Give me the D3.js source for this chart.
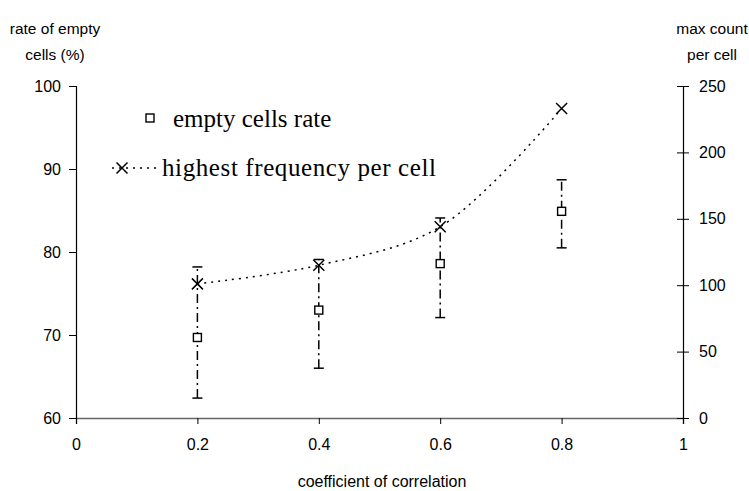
<!DOCTYPE html>
<html>
<head>
<meta charset="utf-8">
<script src="https://cdn.jsdelivr.net/npm/d3@7"></script>
<style>
  body { margin: 0; background: #fff; }
  svg { display: block; }
</style>
</head>
<body>
<script>
// data
var corr = [0.2, 0.4, 0.6, 0.8];
var emptyRate = [69.7, 73.0, 78.6, 84.9];
var emptyLow = [62.4, 66.0, 72.1, 80.5];
var emptyHigh = [78.2, 79.1, 84.1, 88.7];
var maxCount = [101, 115, 144, 233];

var xTicks = [0, 0.2, 0.4, 0.6, 0.8, 1];
var leftTicks = [60, 70, 80, 90, 100];
var rightTicks = [0, 50, 100, 150, 200, 250];

var W = 749, H = 491;
var pLeft = 76, pRight = 683, pTop = 86, pBottom = 418;

var svg = d3.select("body").append("svg")
    .attr("width", W)
    .attr("height", H);

var x = d3.scaleLinear().domain([0, 1]).range([pLeft, pRight]);
var yL = d3.scaleLinear().domain([60, 100]).range([pBottom, pTop]);
var yR = d3.scaleLinear().domain([0, 250]).range([pBottom, pTop]);

var axisFont = "'Liberation Sans', Arial, sans-serif";
var legFont = "'Liberation Serif', 'Times New Roman', serif";

// x axis
var gx = svg.append("g")
    .attr("transform", "translate(0," + pBottom + ")")
    .call(d3.axisBottom(x).tickValues(xTicks).tickSize(6).tickPadding(15)
      .tickFormat(function(d) { return d; }));

// left axis
var gl = svg.append("g")
    .attr("transform", "translate(" + pLeft + ",0)")
    .call(d3.axisLeft(yL).tickValues(leftTicks).tickSize(7).tickPadding(8));

// right axis
var gr = svg.append("g")
    .attr("transform", "translate(" + pRight + ",0)")
    .call(d3.axisRight(yR).tickValues(rightTicks).tickSize(6).tickPadding(10));
gr.selectAll(".tick line").attr("x1", -6);

[gx, gl, gr].forEach(function(g) {
  g.select(".domain").attr("stroke", "#000").attr("stroke-width", 1.2);
  g.selectAll(".tick line").attr("stroke", "#000");
  g.selectAll("text").attr("font-family", axisFont).attr("font-size", 16).attr("fill", "#000");
});
gx.select(".domain").attr("stroke", "#666").attr("stroke-width", 1.5);

// axis titles
function label(txt, px, py, size) {
  svg.append("text")
      .attr("x", px).attr("y", py)
      .attr("text-anchor", "middle")
      .attr("font-family", axisFont)
      .attr("font-size", size || 16)
      .text(txt);
}
label("rate of empty", 55, 34, 15.5);
label("cells (%)", 55, 60, 15.5);
label("max count", 712, 34, 15.5);
label("per cell", 712, 60, 15.5);
label("coefficient of correlation", 382, 487);

// error bars
var bars = svg.append("g");
corr.forEach(function(c, i) {
  bars.append("line")
      .attr("x1", x(c)).attr("x2", x(c))
      .attr("y1", yL(emptyLow[i])).attr("y2", yL(emptyHigh[i]))
      .attr("stroke", "#000").attr("stroke-width", 1.5)
      .attr("stroke-dasharray", "9,4,2,4");
  [emptyLow[i], emptyHigh[i]].forEach(function(v) {
    bars.append("line")
        .attr("x1", x(c) - 5).attr("x2", x(c) + 5)
        .attr("y1", yL(v)).attr("y2", yL(v))
        .attr("stroke", "#000").attr("stroke-width", 1.5);
  });
});

// max count line
var line = d3.line()
    .x(function(d, i) { return x(corr[i]); })
    .y(function(d) { return yR(d); })
    .curve(d3.curveCatmullRom.alpha(0.5));

svg.append("path")
    .datum(maxCount)
    .attr("d", line)
    .attr("fill", "none")
    .attr("stroke", "#000")
    .attr("stroke-width", 1.5)
    .attr("stroke-dasharray", "2,5");

function cross(g, cx, cy) {
  var s = 5.5;
  g.append("path")
      .attr("d", "M" + (cx - s) + "," + (cy - s) + "L" + (cx + s) + "," + (cy + s) +
                 "M" + (cx - s) + "," + (cy + s) + "L" + (cx + s) + "," + (cy - s))
      .attr("stroke", "#000").attr("stroke-width", 1.5).attr("fill", "none");
}
function square(g, cx, cy) {
  g.append("rect")
      .attr("x", cx - 4).attr("y", cy - 4)
      .attr("width", 8).attr("height", 8)
      .attr("fill", "#fff").attr("stroke", "#000").attr("stroke-width", 1.4);
}

corr.forEach(function(c, i) {
  cross(svg, x(c), yR(maxCount[i]));
  square(svg, x(c), yL(emptyRate[i]));
});

// legend (hand-placed text boxes)
var leg = svg.append("g");
square(leg, 150, 118);
leg.append("text").attr("x", 173).attr("y", 127)
    .attr("font-family", legFont)
    .attr("font-size", 25).text("empty cells rate");
leg.append("line")
    .attr("x1", 112).attr("x2", 158).attr("y1", 168).attr("y2", 168)
    .attr("stroke", "#000").attr("stroke-width", 1.5).attr("stroke-dasharray", "2,5");
cross(leg, 122, 168);
leg.append("text").attr("x", 162).attr("y", 176)
    .attr("font-family", legFont)
    .attr("font-size", 25)
    .attr("textLength", 274).attr("lengthAdjust", "spacing")
    .text("highest frequency per cell");
</script>
</body>
</html>
